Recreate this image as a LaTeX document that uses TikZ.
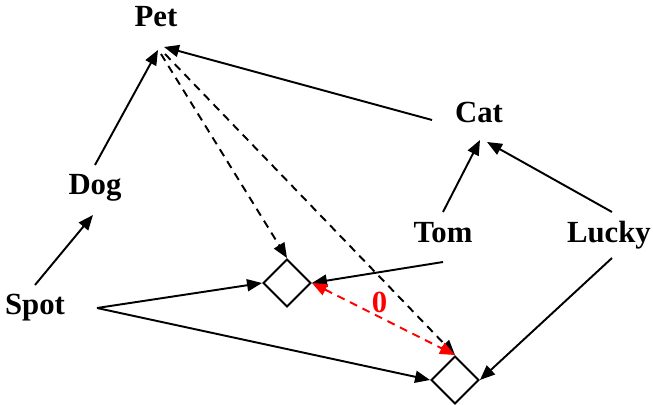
\documentclass[tikz,border=0pt]{standalone}
\usepackage{fontspec}
\setmainfont{Liberation Serif}
\usetikzlibrary{arrows.meta,shapes.geometric,calc}
\begin{document}
\begin{tikzpicture}[x=0.02cm,y=-0.02cm,
  lbl/.style={font=\bfseries\fontsize{17.5}{20}\selectfont,inner sep=0,anchor=base},
  box/.style={draw,diamond,line width=1.1pt,minimum width=0.96cm,minimum height=0.96cm,inner sep=0},
  arr/.style={line width=1.1pt,-{Triangle[length=0.3cm,width=0.24cm]}},
  dsh/.style={arr,dash pattern=on 0.16cm off 0.12cm}]
  \useasboundingbox (0,0) rectangle (653,405);
  % labels
  \node[lbl] (pet) at (156,27) {Pet};
  \node[lbl] (dog) at (95,195) {Dog};
  \node[lbl] (spot) at (35,315) {Spot};
  \node[lbl] (cat) at (479,123) {Cat};
  \node[lbl] (tom) at (443,243) {Tom};
  \node[lbl] (lucky) at (609,243) {Lucky};
  % objects
  \node[box] (d1) at (287,283) {};
  \node[box] (d2) at (455,380) {};
  % subclass links
  \draw[arr] ($(spot.base)+(0,-30)$) -- ($(dog.base)+(-2,20)$);
  \draw[arr] ($(dog.base)+(0,-30)$) -- ($(pet.base)+(2,23)$);
  \draw[arr] ($(cat.base)+(-47,-3)$) -- ($(pet.base)+(8,20)$);
  \draw[arr] ($(tom.base)+(0,-31)$) -- ($(cat.base)+(1,17)$);
  \draw[arr] ($(lucky.base)+(3,-31)$) -- ($(cat.base)+(8,19)$);
  % instance links
  \draw[arr] ($(spot.base)+(62,-7)$) -- (d1.west);
  \draw[arr] ($(spot.base)+(62,-7)$) -- (d2.west);
  \draw[arr] ($(tom.base)+(0,19)$) -- (d1.east);
  \draw[arr] ($(lucky.base)+(3,15)$) -- (d2.east);
  \draw[dsh] ($(pet.base)+(5,27)$) -- (d1.north);
  \draw[dsh] ($(pet.base)+(9,27)$) -- (d2.north);
  % distance
  \draw[dsh,red,{Triangle[length=0.3cm,width=0.24cm]}-{Triangle[length=0.3cm,width=0.24cm]}]
    (d1.east) -- (d2.north) node[midway,lbl,red,xshift=-0.08cm,yshift=0.14cm] {0};
\end{tikzpicture}
\end{document}
